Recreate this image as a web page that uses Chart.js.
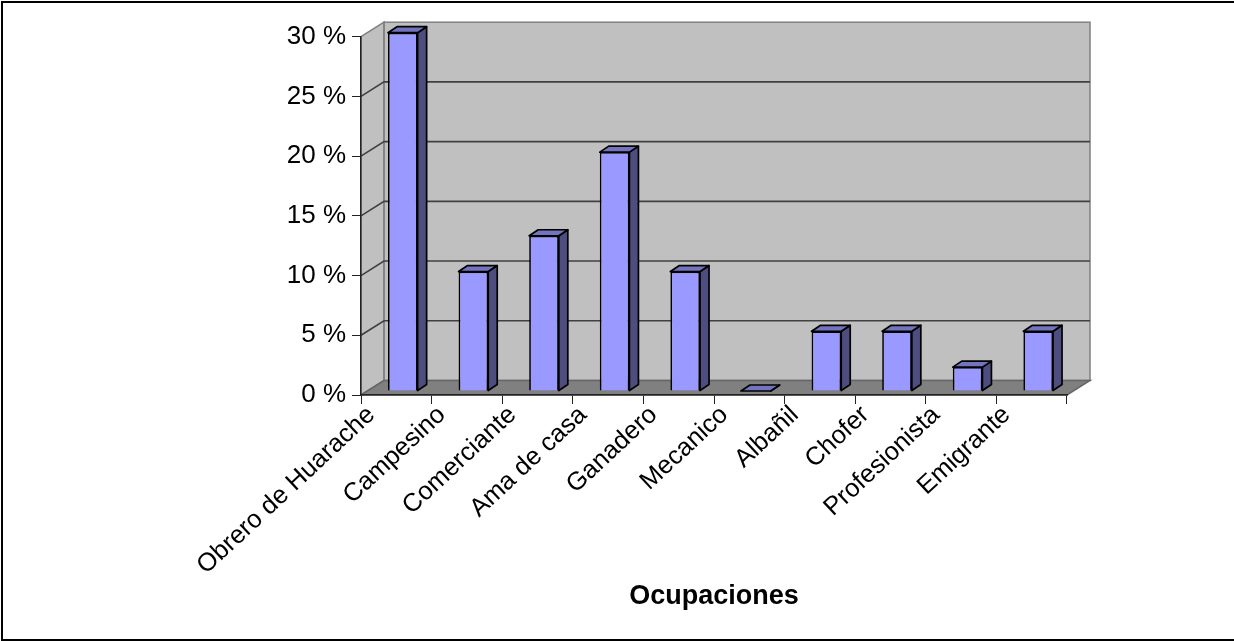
<!DOCTYPE html>
<html>
<head>
<meta charset="utf-8">
<style>
  html, body { margin: 0; padding: 0; background: #fff; overflow: hidden; }
  #wrap { position: relative; width: 1234px; height: 641px; }
</style>
<script src="https://cdn.jsdelivr.net/npm/chart.js@4"></script>
</head>
<body>
<div id="wrap"><canvas id="chartId"></canvas></div>
<script>
const categories = ['Obrero de Huarache', 'Campesino', 'Comerciante', 'Ama de casa', 'Ganadero', 'Mecanico', 'Albañil', 'Chofer', 'Profesionista', 'Emigrante']
const values = [30, 10, 13, 20, 10, 0, 5, 5, 2, 5]
const xTitle = 'Ocupaciones'

// how far the back wall and the bars sit behind the axis plane
const wallDx = 23, wallDy = -14.5
const barDx = 6.5, barDy = -4
const sideDx = 9, sideDy = -6

const pseudo3d = {
    id: 'pseudo3d',
    beforeDraw(chart) {
        const { ctx, chartArea: a, scales: { y } } = chart
        ctx.save()
        // outer frame, right side falls off the picture
        ctx.strokeStyle = '#000'
        ctx.lineWidth = 2
        ctx.strokeRect(2, 2, 1240, 638)
        // back wall
        ctx.fillStyle = '#C0C0C0'
        ctx.fillRect(a.left + wallDx, a.top + wallDy, a.width, a.height)
        // left wall
        ctx.beginPath()
        ctx.moveTo(a.left, a.top)
        ctx.lineTo(a.left + wallDx, a.top + wallDy)
        ctx.lineTo(a.left + wallDx, a.bottom + wallDy)
        ctx.lineTo(a.left, a.bottom)
        ctx.closePath()
        ctx.fill()
        ctx.strokeStyle = '#808080'
        ctx.lineWidth = 1.5
        ctx.stroke()
        ctx.strokeRect(a.left + wallDx, a.top + wallDy, a.width, a.height)
        // floor
        ctx.beginPath()
        ctx.moveTo(a.left, a.bottom)
        ctx.lineTo(a.left + wallDx, a.bottom + wallDy)
        ctx.lineTo(a.right + wallDx, a.bottom + wallDy)
        ctx.lineTo(a.right, a.bottom)
        ctx.closePath()
        ctx.fillStyle = '#808080'
        ctx.fill()
        ctx.strokeStyle = '#666'
        ctx.stroke()
        // gridlines, bent round the left wall
        ctx.strokeStyle = '#404040'
        ctx.lineWidth = 1.6
        y.ticks.forEach(t => {
            if (t.value === y.min || t.value === y.max) return
            const py = y.getPixelForValue(t.value)
            ctx.beginPath()
            ctx.moveTo(a.left, py)
            ctx.lineTo(a.left + wallDx, py + wallDy)
            ctx.lineTo(a.right + wallDx, py + wallDy)
            ctx.stroke()
        })
        ctx.restore()
    },
    beforeDatasetDraw(chart, args) {
        const { ctx } = chart
        ctx.save()
        ctx.translate(barDx, barDy)
        ctx.lineWidth = 1.7
        ctx.strokeStyle = '#000'
        ctx.lineJoin = 'round'
        args.meta.data.forEach(bar => {
            const l = bar.x - bar.width / 2, r = bar.x + bar.width / 2
            const top = bar.y, bottom = bar.base
            // right side
            ctx.beginPath()
            ctx.moveTo(r, top)
            ctx.lineTo(r + sideDx, top + sideDy)
            ctx.lineTo(r + sideDx, bottom + sideDy)
            ctx.lineTo(r, bottom)
            ctx.closePath()
            ctx.fillStyle = '#4D4D80'
            ctx.fill()
            ctx.stroke()
            // top
            ctx.beginPath()
            ctx.moveTo(l, top)
            ctx.lineTo(l + sideDx, top + sideDy)
            ctx.lineTo(r + sideDx, top + sideDy)
            ctx.lineTo(r, top)
            ctx.closePath()
            ctx.fillStyle = '#7373BF'
            ctx.fill()
            ctx.stroke()
        })
    },
    afterDatasetDraw(chart) {
        chart.ctx.restore()
    }
}

new Chart(document.getElementById('chartId'), {
    type: 'bar',
    data: {
        labels: categories,
        datasets: [{
            data: values,
            backgroundColor: '#9999FF',
            borderColor: '#000',
            borderWidth: 1.7,
            barPercentage: 0.42,
            categoryPercentage: 1
        }]
    },
    options: {
        responsive: true,
        maintainAspectRatio: false,
        animation: false,
        layout: { padding: { top: 36.7, right: 167, left: 0, bottom: 0 } },
        plugins: { legend: { display: false }, tooltip: { enabled: false } },
        scales: {
            x: {
                afterFit(axis) { axis.height = 246 },
                grid: { drawOnChartArea: false, color: '#222', tickLength: 9, offset: true },
                border: { color: '#222', width: 1.5 },
                ticks: {
                    autoSkip: false,
                    minRotation: 43,
                    maxRotation: 43,
                    padding: -4,
                    labelOffset: -25,
                    color: '#000',
                    font: { family: '"Liberation Sans"', size: 25.5 }
                },
                title: {
                    display: true,
                    text: xTitle,
                    color: '#000',
                    font: { family: '"Liberation Sans"', size: 27, weight: 'bold' },
                    padding: { top: 0, bottom: 28 }
                }
            },
            y: {
                min: 0,
                max: 30,
                afterFit(axis) { axis.width = 361 },
                grid: { drawOnChartArea: false, color: '#222', tickLength: 9 },
                border: { color: '#222', width: 1.5 },
                ticks: {
                    stepSize: 5,
                    padding: 6,
                    color: '#000',
                    font: { family: '"Liberation Sans"', size: 26 },
                    callback: v => v + ' %'
                }
            }
        }
    },
    plugins: [pseudo3d]
})
</script>
</body>
</html>
